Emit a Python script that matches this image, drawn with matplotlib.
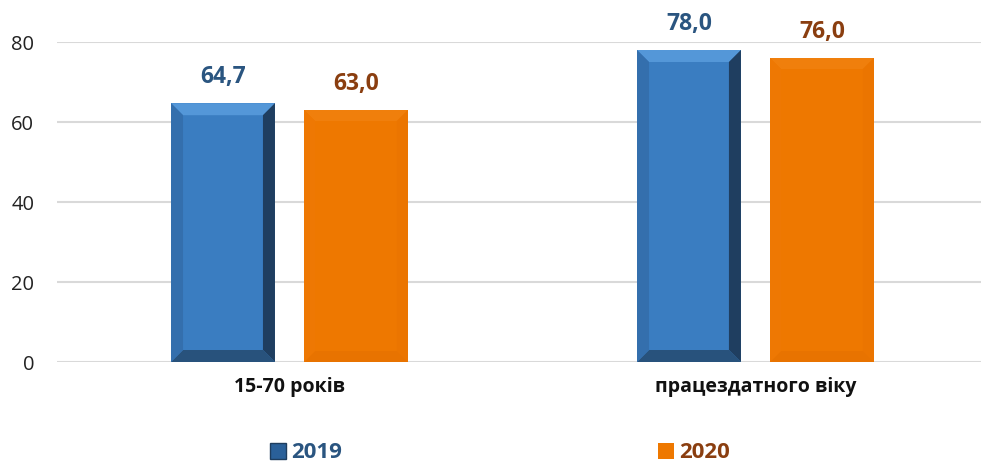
import matplotlib.pyplot as plt
from matplotlib.patches import Patch, Polygon

plt.rcParams['font.family'] = ['Open Sans', 'DejaVu Sans']

categories = ["15-70 років", "працездатного віку"]
years = ["2019", "2020"]
values_2019 = [64.7, 78.0]
values_2020 = [63.0, 76.0]

BLUE = "#3A7DC1"
ORANGE = "#EE7800"
BLUE_TEXT = "#2A5580"
ORANGE_TEXT = "#8A3E10"

fig = plt.figure(figsize=(9.81, 4.67), dpi=100)
ax = fig.add_axes([56.5 / 981, 105 / 467, 924.5 / 981, 320 / 467])

x = range(len(categories))
width = 0.223
offset = 0.1427

bars_2019 = ax.bar([i - offset for i in x], values_2019, width, color=BLUE, zorder=3)
bars_2020 = ax.bar([i + offset for i in x], values_2020, width, color=ORANGE, zorder=3)

ax.set_xlim(-0.5, 1.484)
ax.set_ylim(0, 80)
ax.set_yticks([0, 20, 40, 60, 80])
ax.grid(axis="y", color="#D9D9D9", linewidth=1.5, zorder=0)
ax.set_axisbelow(True)
for s in ax.spines.values():
    s.set_visible(False)
ax.tick_params(axis="y", length=0, pad=16, labelsize=14.5, labelcolor="#222222")
ax.tick_params(axis="x", length=0, pad=11)
ax.set_xticks(list(x))
ax.set_xticklabels(categories, fontsize=14, fontweight="bold", color="#111111")


# bevel effect, sizes in pixels converted to data units
def bevel(bar, size_px, top_c, right_c, bottom_c, left_c):
    x0, y0 = bar.get_x(), bar.get_y()
    w, h = bar.get_width(), bar.get_height()
    dx = size_px / 466
    dy = size_px / 4
    x1, y1 = x0 + w, y0 + h
    faces = [
        ([(x0, y1), (x1, y1), (x1 - dx, y1 - dy), (x0 + dx, y1 - dy)], top_c),
        ([(x1, y1), (x1, y0), (x1 - dx, y0 + dy), (x1 - dx, y1 - dy)], right_c),
        ([(x0, y0), (x1, y0), (x1 - dx, y0 + dy), (x0 + dx, y0 + dy)], bottom_c),
        ([(x0, y1), (x0, y0), (x0 + dx, y0 + dy), (x0 + dx, y1 - dy)], left_c),
    ]
    for pts, c in faces:
        ax.add_patch(Polygon(pts, closed=True, facecolor=c, edgecolor="none", zorder=4))


for b in bars_2019:
    bevel(b, 12, "#5497D8", "#1F3E60", "#28527C", "#346FAD")
for b in bars_2020:
    bevel(b, 11, "#F07F0C", "#EB7500", "#E87300", "#EE7803")

for b, v in zip(bars_2019, values_2019):
    ax.annotate(f"{v:.1f}".replace(".", ","), (b.get_x() + b.get_width() / 2, v),
                xytext=(0, 19), textcoords="offset points", ha="center", va="center",
                fontsize=16.5, fontweight="bold", color=BLUE_TEXT, annotation_clip=False)
for b, v in zip(bars_2020, values_2020):
    ax.annotate(f"{v:.1f}".replace(".", ","), (b.get_x() + b.get_width() / 2, v),
                xytext=(0, 19), textcoords="offset points", ha="center", va="center",
                fontsize=16.5, fontweight="bold", color=ORANGE_TEXT, annotation_clip=False)

handles = [Patch(facecolor="#2A6099", edgecolor="#1E3D5E"), Patch(facecolor=ORANGE)]
leg = fig.legend(handles, years, loc="center", bbox_to_anchor=(500 / 981, 1 - 453 / 467),
                 ncol=2, frameon=False, handlelength=0.72, handleheight=0.72,
                 handletextpad=0.25, columnspacing=14.2, borderpad=0.2,
                 prop={"size": 16, "weight": "bold"})
for t, c in zip(leg.get_texts(), [BLUE_TEXT, ORANGE_TEXT]):
    t.set_color(c)

fig.savefig("out.png", dpi=100)
